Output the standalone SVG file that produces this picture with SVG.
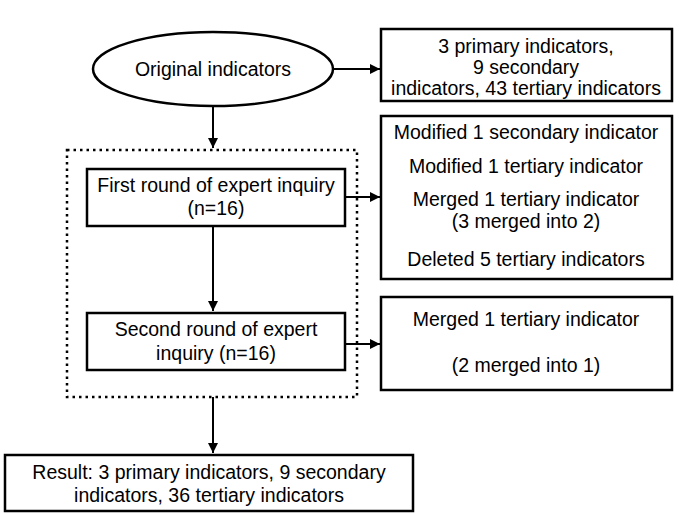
<svg xmlns="http://www.w3.org/2000/svg" width="685" height="514" viewBox="0 0 685 514">
<defs>
<marker id="ah" viewBox="0 0 10 10" refX="10" refY="5" markerWidth="5" markerHeight="5" orient="auto"><path d="M0,0 L10,5 L0,10 z" fill="#000"/></marker>
<style>
.b{fill:#fff;stroke:#000;stroke-width:2.5}
.c{stroke:#000;stroke-width:2;fill:none;marker-end:url(#ah)}
text{font-family:"Liberation Sans",Arial,sans-serif;font-size:19.5px;text-anchor:middle;fill:#000}
</style>
</defs>
<rect x="0" y="0" width="685" height="514" fill="#fff"/>
<rect x="67" y="150" width="290" height="247" fill="none" stroke="#000" stroke-width="2.5" stroke-dasharray="2.5,4"/>
<g id="connectors">
<line class="c" x1="333" y1="69" x2="380" y2="69"/>
<line class="c" x1="213" y1="107" x2="213" y2="148"/>
<line class="c" x1="345" y1="197" x2="380" y2="197"/>
<line class="c" x1="213" y1="226" x2="213" y2="311"/>
<line class="c" x1="345" y1="344" x2="380" y2="344"/>
<line class="c" x1="213" y1="397" x2="213" y2="453"/>
</g>
<g id="original"><ellipse class="b" cx="213" cy="69" rx="120" ry="37"/><text x="213" y="76">Original indicators</text></g>
<g id="orig-detail"><rect class="b" x="381" y="29" width="291" height="72"/><text x="526" y="53">3 primary indicators,</text><text x="526" y="74">9 secondary</text><text x="526" y="95">indicators, 43 tertiary indicators</text></g>
<g id="first"><rect class="b" x="87" y="169" width="258" height="57"/><text x="216" y="192">First round of expert inquiry</text><text x="216" y="215">(n=16)</text></g>
<g id="first-detail"><rect class="b" x="381" y="116" width="291" height="163"/><text x="526" y="139">Modified 1 secondary indicator</text><text x="526" y="173">Modified 1 tertiary indicator</text><text x="526" y="206">Merged 1 tertiary indicator</text><text x="526" y="228">(3 merged into 2)</text><text x="526" y="266">Deleted 5 tertiary indicators</text></g>
<g id="second"><rect class="b" x="87" y="313" width="258" height="57"/><text x="216" y="336">Second round of expert</text><text x="216" y="360">inquiry (n=16)</text></g>
<g id="second-detail"><rect class="b" x="381" y="297" width="291" height="93"/><text x="526" y="326">Merged 1 tertiary indicator</text><text x="526" y="372">(2 merged into 1)</text></g>
<g id="result"><rect class="b" x="5" y="455" width="408" height="56"/><text x="209" y="479">Result: 3 primary indicators, 9 secondary</text><text x="209" y="502">indicators, 36 tertiary indicators</text></g>
</svg>
